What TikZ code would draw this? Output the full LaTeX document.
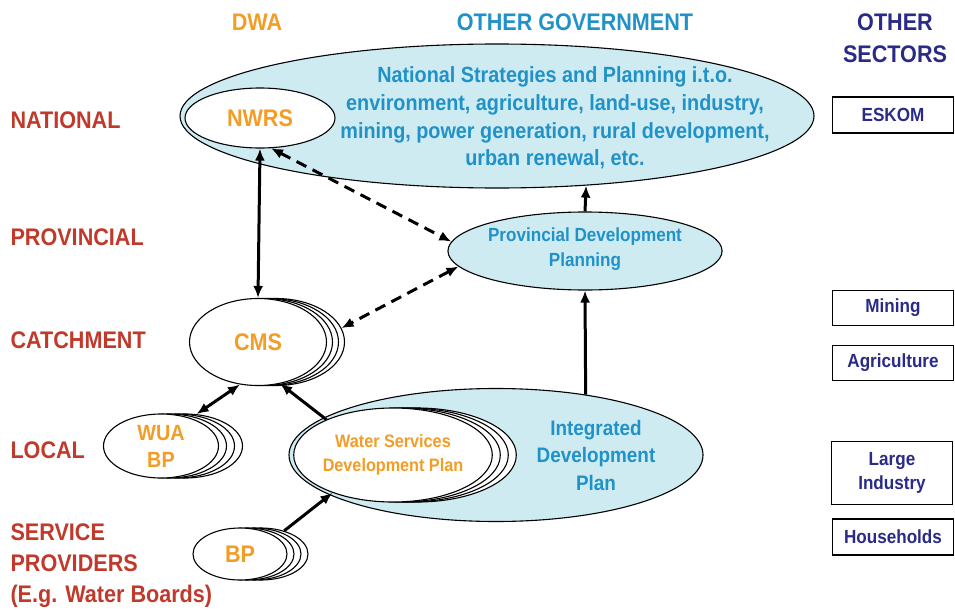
\documentclass[tikz,border=0pt]{standalone}
\usepackage{fontspec}
\setmainfont{Liberation Sans}[FakeStretch=0.9]
\usetikzlibrary{shapes.geometric,arrows.meta,shadows}
\definecolor{lvlred}{RGB}{192,57,43}
\definecolor{dwaorange}{RGB}{243,156,38}
\definecolor{govblue}{RGB}{33,146,199}
\definecolor{secnavy}{RGB}{42,42,135}
\definecolor{paleblue}{RGB}{206,235,242}
\begin{document}
\begin{tikzpicture}[x=1pt,y=-1pt,
    level/.style={anchor=west,text=lvlred,align=left,font=\bfseries\fontsize{24}{31}\selectfont},
    head/.style={align=center,font=\bfseries\fontsize{24}{32}\selectfont},
    oval/.style={ellipse,draw,line width=1.1pt,inner sep=0pt},
    dwaoval/.style={oval,fill=white,text=dwaorange},
    govoval/.style={oval,fill=paleblue,text=govblue},
    stack/.style={copy shadow={shadow xshift=3*#1,shadow yshift=0pt},
                  copy shadow={shadow xshift=2*#1,shadow yshift=0pt},
                  copy shadow={shadow xshift=#1,shadow yshift=0pt}},
    sector/.style={draw,line width=1.4pt,text=secnavy,minimum width=121pt,align=center,
                   font=\bfseries\fontsize{19}{24}\selectfont},
    tip/.tip={Latex[length=12pt,width=10pt]},
    link/.style={line width=3pt,-tip},
    twoway/.style={line width=3pt,tip-tip},
    loose/.style={twoway,dash pattern=on 11pt off 7pt}]
  \useasboundingbox (0,0) rectangle (955,610);
  % column heads
  \node[head,text=dwaorange] (dwa) at (257,22) {DWA};
  \node[head,text=govblue] (gov) at (575,22) {OTHER GOVERNMENT};
  \node[head,text=secnavy] (sec) at (895,38) {OTHER\\SECTORS};
  % levels
  \node[level] (lnat) at (7,120) {NATIONAL};
  \node[level] (lprov) at (7,237) {PROVINCIAL};
  \node[level] (lcat) at (7,340) {CATCHMENT};
  \node[level] (lloc) at (7,450) {LOCAL};
  \node[level] (lsp) at (7,566) {SERVICE\\PROVIDERS\\(E.g. Water Boards)};
  % plans
  \node[govoval,minimum width=634pt,minimum height=144pt] (natl) at (497,116) {};
  \node[text=govblue,align=center,font=\bfseries\fontsize{22}{27.7}\selectfont] (natltxt) at (555,118)
    {National Strategies and Planning i.t.o.\\environment, agriculture, land-use, industry,\\mining, power generation, rural development,\\urban renewal, etc.};
  \node[dwaoval,minimum width=150pt,minimum height=60pt,font=\bfseries\fontsize{24}{28}\selectfont] (nwrs) at (260,118) {NWRS};
  \node[govoval,minimum width=255pt,minimum height=78pt,align=center,font=\bfseries\fontsize{19}{25}\selectfont] (prov) at (585,251)
    {Provincial Development\\Planning\\[-17pt]};
  \node[dwaoval,stack=6pt,minimum width=137pt,minimum height=87pt,font=\bfseries\fontsize{24}{28}\selectfont] (cms) at (258,342) {CMS};
  \node[dwaoval,stack=8pt,minimum width=115pt,minimum height=64pt,align=center,font=\bfseries\fontsize{22}{27}\selectfont] (wua) at (161,446) {WUA\\BP};
  \node[govoval,minimum width=414pt,minimum height=133pt] (idp) at (496,455) {};
  \node[text=govblue,align=center,font=\bfseries\fontsize{21}{27.5}\selectfont] (idptxt) at (596,455) {Integrated\\Development\\Plan};
  \node[dwaoval,stack=8pt,minimum width=187pt,minimum height=94pt,align=center,font=\bfseries\fontsize{18}{24}\selectfont] (wsdp) at (393,455)
    {Water Services\\Development Plan};
  \node[dwaoval,stack=7pt,minimum width=94pt,minimum height=52pt,font=\bfseries\fontsize{24}{28}\selectfont] (bp) at (240,554) {BP};
  % other sectors
  \node[sector,minimum height=36pt] (eskom) at (893,115) {ESKOM};
  \node[sector,minimum height=35pt] (mining) at (893,308) {Mining};
  \node[sector,minimum height=35pt] (agri) at (893,363) {Agriculture};
  \node[sector,minimum height=63pt] (industry) at (892,473) {Large\\Industry};
  \node[sector,minimum height=36pt] (house) at (893,537) {Households};
  % links
  \draw[twoway] (nwrs.south) -- (cms.north);
  \draw[loose] (nwrs.-70) -- (prov.176);
  \draw[loose] (prov.187) -- ([xshift=18pt]cms.12);
  \draw[link] (prov.north) -- (natl.-38);
  \draw[link] (idp.34) -- (prov.south);
  \draw[twoway] (cms.-113) -- ([xshift=24pt]wua.70);
  \draw[link] (wsdp.152) -- (cms.-62);
  \draw[link] ([xshift=21pt]bp.45) -- (wsdp.-148);
\end{tikzpicture}
\end{document}
